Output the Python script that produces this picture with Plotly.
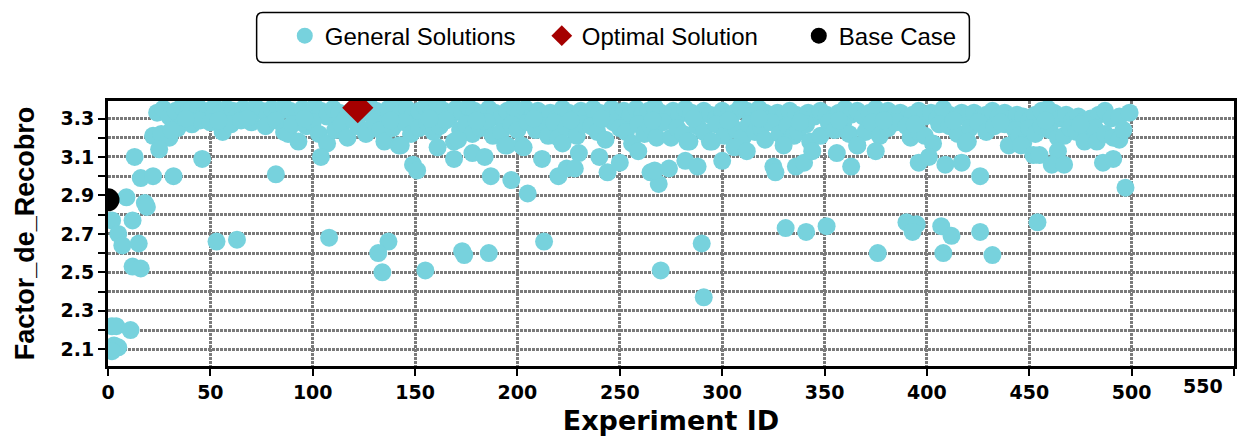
import plotly.graph_objects as go

# ---- data -------------------------------------------------------------
# upper band of solutions (Factor_de_Recobro >= 3.29)
top_ids = [24, 27, 30, 33, 36, 39, 41, 44, 47, 49, 52, 55, 58, 61, 63, 66, 69, 72, 75, 78,
           80, 83, 86, 89, 92, 95, 98, 101, 104, 107, 110, 113, 116, 119, 125, 128, 131, 134,
           137, 140, 143, 146, 149, 152, 155, 158, 161, 164, 167, 170, 173, 176, 179, 182,
           186, 189, 192, 195, 198, 201, 204, 207, 210, 213, 216, 219, 222, 225, 228, 231,
           234, 237, 240, 243, 246, 249, 252, 255, 258, 261, 264, 267, 270, 273, 276, 279,
           282, 285, 288, 291, 294, 297, 300, 303, 306, 309, 312, 315, 318, 321, 324, 327,
           330, 333, 336, 339, 342, 345, 348, 351, 354, 357, 360, 363, 366, 369, 372, 375,
           378, 381, 384, 387, 390, 393, 396, 399, 402, 405, 408, 411, 414, 417, 420, 423,
           426, 429, 432, 435, 438, 441, 444, 447, 450, 453, 456, 459, 462, 465, 468, 471,
           474, 477, 480, 484, 487, 490, 494, 499]
top_vals = [3.33, 3.35, 3.31, 3.34, 3.36, 3.33, 3.35, 3.36, 3.32, 3.34, 3.36, 3.33, 3.35, 3.34,
            3.31, 3.35, 3.33, 3.36, 3.34, 3.32, 3.35, 3.33, 3.36, 3.34, 3.31, 3.35, 3.33, 3.36,
            3.34, 3.31, 3.35, 3.33, 3.30, 3.34, 3.33, 3.36, 3.34, 3.31, 3.35, 3.37, 3.33, 3.35,
            3.32, 3.34, 3.36, 3.33, 3.37, 3.34, 3.31, 3.35, 3.33, 3.36, 3.34, 3.31, 3.35, 3.33,
            3.30, 3.34, 3.36, 3.33, 3.35, 3.31, 3.34, 3.32, 3.33, 3.30, 3.35, 3.33, 3.31, 3.34,
            3.32, 3.35, 3.33, 3.30, 3.35, 3.32, 3.34, 3.31, 3.35, 3.32, 3.34, 3.36, 3.33, 3.31,
            3.34, 3.32, 3.35, 3.33, 3.31, 3.34, 3.32, 3.30, 3.34, 3.31, 3.33, 3.36, 3.34, 3.32,
            3.35, 3.33, 3.30, 3.33, 3.31, 3.34, 3.32, 3.30, 3.33, 3.31, 3.34, 3.32, 3.30, 3.33,
            3.35, 3.32, 3.34, 3.31, 3.33, 3.35, 3.32, 3.34, 3.31, 3.33, 3.30, 3.32, 3.34, 3.31,
            3.33, 3.30, 3.35, 3.32, 3.30, 3.33, 3.31, 3.33, 3.30, 3.32, 3.34, 3.31, 3.33, 3.30,
            3.32, 3.31, 3.29, 3.32, 3.34, 3.35, 3.33, 3.30, 3.32, 3.29, 3.31, 3.29, 3.30, 3.32,
            3.34, 3.30, 3.31, 3.33]

# middle band (about 3.16 - 3.29)
mid_ids = [22, 26, 30, 34, 37, 41, 45, 50, 56, 60, 65, 70, 77, 82, 86, 88, 90, 93, 97, 100,
           103, 107, 111, 114, 117, 122, 126, 130, 133, 135, 139, 142, 145, 148, 152, 156,
           159, 162, 165, 169, 172, 175, 178, 182, 185, 188, 192, 194, 197, 200, 202, 205,
           209, 212, 215, 218, 220, 224, 229, 232, 236, 239, 243, 247, 250, 253, 256, 259,
           262, 265, 268, 271, 275, 278, 281, 284, 288, 291, 294, 297, 301, 304, 307, 310,
           313, 316, 319, 321, 324, 328, 332, 335, 337, 341, 343, 348, 352, 355, 359, 362,
           366, 370, 373, 377, 381, 385, 390, 392, 396, 399, 403, 406, 411, 415, 419, 421,
           425, 429, 433, 438, 440, 443, 445, 447, 450, 453, 456, 460, 464, 467, 470, 473,
           477, 480, 482, 483, 487, 491, 494, 496,
           31, 38, 54, 68, 96, 120, 138, 157, 180, 208, 226, 241, 266, 286, 303, 318, 338,
           357, 379, 394, 413, 436, 458, 475]
mid_vals = [3.21, 3.22, 3.20, 3.25, 3.28, 3.27, 3.29, 3.28, 3.23, 3.27, 3.29, 3.28, 3.26, 3.29,
            3.23, 3.22, 3.27, 3.18, 3.26, 3.28, 3.22, 3.17, 3.24, 3.27, 3.20, 3.26, 3.22, 3.28,
            3.24, 3.18, 3.25, 3.16, 3.28, 3.22, 3.25, 3.28, 3.23, 3.26, 3.29, 3.18, 3.24, 3.27,
            3.22, 3.25, 3.28, 3.21, 3.23, 3.16, 3.27, 3.24, 3.16, 3.28, 3.24, 3.26, 3.21, 3.28,
            3.20, 3.25, 3.21, 3.27, 3.26, 3.23, 3.19, 3.28, 3.25, 3.23, 3.17, 3.27, 3.22, 3.26,
            3.20, 3.28, 3.20, 3.25, 3.22, 3.18, 3.26, 3.23, 3.18, 3.27, 3.21, 3.28, 3.24, 3.20,
            3.27, 3.23, 3.25, 3.19, 3.28, 3.22, 3.26, 3.21, 3.23, 3.27, 3.18, 3.21, 3.28, 3.24,
            3.27, 3.22, 3.16, 3.23, 3.28, 3.21, 3.25, 3.28, 3.26, 3.20, 3.23, 3.21, 3.17, 3.27,
            3.26, 3.22, 3.17, 3.25, 3.28, 3.23, 3.26, 3.27, 3.16, 3.24, 3.21, 3.17, 3.25, 3.22,
            3.26, 3.24, 3.20, 3.21, 3.25, 3.23, 3.18, 3.26, 3.25, 3.18, 3.22, 3.20, 3.19, 3.24,
            3.24, 3.30, 3.29, 3.30, 3.30, 3.29, 3.29, 3.30, 3.29, 3.30, 3.29, 3.30, 3.29, 3.30,
            3.29, 3.30, 3.28, 3.29, 3.29, 3.27, 3.29, 3.28, 3.29, 3.27]

# lower band (about 2.90 - 3.19)
low_ids = [13, 16, 22, 32, 25, 46, 82, 104, 143, 149, 151, 161, 169, 171, 178, 184, 187, 197,
           205, 195, 203, 212, 220, 222, 224, 230, 228, 240, 244, 250, 259, 265, 269, 267, 274,
           282, 288, 300, 283, 295, 306, 312, 325, 326, 336, 340, 330, 344, 356, 363, 366, 375,
           396, 401, 409, 417, 426, 420, 446, 452, 455, 464, 461, 467, 486, 491, 497]
low_vals = [3.10, 2.99, 3.00, 3.00, 3.14, 3.09, 3.01, 3.10, 3.16, 3.06, 3.03, 3.15, 3.09, 3.19,
            3.12, 3.10, 3.00, 2.98, 2.91, 3.16, 3.15, 3.09, 3.00, 3.17, 3.04, 3.12, 3.04, 3.10,
            3.02, 3.07, 3.13, 3.02, 2.96, 3.03, 3.04, 3.08, 3.05, 3.08, 3.18, 3.18, 3.15, 3.13,
            3.05, 3.02, 3.05, 3.07, 3.16, 3.13, 3.12, 3.05, 3.16, 3.13, 3.07, 3.10, 3.06, 3.07,
            3.00, 3.18, 3.16, 3.11, 3.11, 3.13, 3.06, 3.06, 3.07, 3.09, 2.94]

# scattered solutions well below the main band
out_ids = [2, 5, 7, 12, 15, 12, 16, 9, 18, 19, 2, 4, 11, 3, 5, 2, 53, 63, 108, 137, 132, 134,
           155, 173, 174, 186, 213, 270, 290, 291, 331, 341, 351, 376, 390, 395, 393, 407,
           412, 408, 426, 432, 454]
out_vals = [2.77, 2.70, 2.64, 2.77, 2.65, 2.53, 2.52, 2.89, 2.86, 2.84, 2.22, 2.22, 2.20, 2.12,
            2.11, 2.09, 2.66, 2.67, 2.68, 2.66, 2.60, 2.50, 2.51, 2.61, 2.59, 2.60, 2.66, 2.51,
            2.65, 2.37, 2.73, 2.71, 2.74, 2.60, 2.76, 2.75, 2.71, 2.74, 2.69, 2.60, 2.71, 2.59,
            2.76]

optimal_id = [122]
optimal_val = [3.356]
base_id = [0]
base_val = [2.877]

y_tick_vals = [2.1, 2.2, 2.3, 2.4, 2.5, 2.6, 2.7, 2.8, 2.9, 3.0, 3.1, 3.2, 3.3]
y_tick_text = ["2.1", "", "2.3", "", "2.5", "", "2.7", "", "2.9", "", "3.1", "", "3.3"]
x_tick_vals = [0, 50, 100, 150, 200, 250, 300, 350, 400, 450, 500, 550]
x_tick_text = ["0", "50", "100", "150", "200", "250", "300", "350", "400", "450", "500", ""]

# ---- figure -----------------------------------------------------------
CYAN = "#77D2DD"
TICK_FONT = dict(family="DejaVu Sans", size=19, color="black", weight="bold")

general_ids = top_ids + mid_ids + low_ids + out_ids
general_vals = top_vals + mid_vals + low_vals + out_vals

fig = go.Figure()
fig.add_trace(go.Scatter(
    x=general_ids, y=general_vals, mode="markers", name="General Solutions",
    marker=dict(color=CYAN, size=18, line=dict(width=0)),
))
fig.add_trace(go.Scatter(
    x=optimal_id, y=optimal_val, mode="markers", name="Optimal Solution",
    marker=dict(color="#A50000", size=24, symbol="diamond", line=dict(width=0)),
))
fig.add_trace(go.Scatter(
    x=base_id, y=base_val, mode="markers", name="Base Case",
    marker=dict(color="black", size=23, line=dict(width=0)),
))

axis_common = dict(
    showline=True, linecolor="black", linewidth=3, mirror=True,
    ticks="outside", tickcolor="black", tickwidth=2, ticklen=7,
    showgrid=True, gridcolor="#7a7a7a", gridwidth=3, griddash="3px,1px",
    zeroline=False, tickfont=TICK_FONT,
)

fig.update_xaxes(
    range=[0, 550], tickmode="array", tickvals=x_tick_vals, ticktext=x_tick_text,
    title=dict(text="Experiment ID", font=dict(family="DejaVu Sans", size=27,
                                               color="black", weight="bold"), standoff=10),
    **axis_common,
)
fig.update_yaxes(
    range=[2.013, 3.391], tickmode="array", tickvals=y_tick_vals, ticktext=y_tick_text,
    title=dict(text="Factor_de_Recobro", font=dict(family="Liberation Sans", size=27,
                                                   color="black", weight="bold"), standoff=19),
    **axis_common,
)

# last x label sits just inside the right edge
fig.add_annotation(
    x=550, xref="x", y=0, yref="paper", text="550", showarrow=False,
    xanchor="right", yanchor="top", xshift=-9, yshift=-7, font=TICK_FONT,
)

# rounded frame behind the legend
x0, x1, y0, y1 = 0.132, 0.765, 1.1455, 1.3335
rx, ry = 0.0055, 0.024
frame = (f"M {x0 + rx},{y0} L {x1 - rx},{y0} Q {x1},{y0} {x1},{y0 + ry} "
         f"L {x1},{y1 - ry} Q {x1},{y1} {x1 - rx},{y1} L {x0 + rx},{y1} "
         f"Q {x0},{y1} {x0},{y1 - ry} L {x0},{y0 + ry} Q {x0},{y0} {x0 + rx},{y0} Z")
fig.add_shape(type="path", path=frame, xref="paper", yref="paper",
              line=dict(color="black", width=1.5), fillcolor="white", layer="below")

fig.update_layout(
    width=1241, height=436,
    margin=dict(l=108, r=4, t=101, b=69),
    paper_bgcolor="white", plot_bgcolor="white",
    showlegend=True,
    legend=dict(
        orientation="h", x=0.157, xanchor="left", y=1.245, yanchor="middle",
        font=dict(family="Liberation Sans", size=24, color="black"),
        bgcolor="rgba(0,0,0,0)", borderwidth=0, itemsizing="trace",
        entrywidth=212,
    ),
)

fig.write_html("out.html")
